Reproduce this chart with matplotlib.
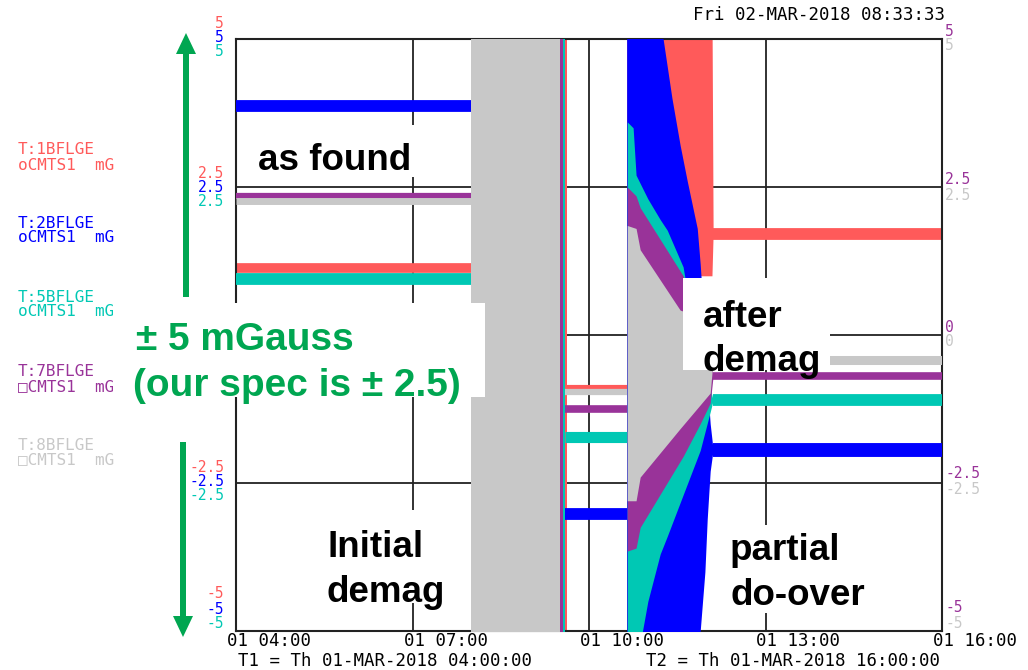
import matplotlib.pyplot as plt
from matplotlib.patches import Rectangle, FancyArrow

# trace colours, order is T:1, T:2, T:5, T:7, T:8
colors = ['#ff5a5a', '#0000ff', '#00c8b4', '#993399', '#c8c8c8']
green = '#00a651'

trace_names = ['T:1BFLGE', 'T:2BFLGE', 'T:5BFLGE', 'T:7BFLGE', 'T:8BFLGE']
trace_units = ['oCMTS1  mG', 'oCMTS1  mG', 'oCMTS1  mG', '\u25a1CMTS1  mG', '\u25a1CMTS1  mG']

# time axis in hours of 01-MAR-2018
x_ticks = [4, 7, 10, 13, 16]
x_labels = ['01 04:00', '01 07:00', '01 10:00', '01 13:00', '01 16:00']
y_ticks = [5, 2.5, 0, -2.5, -5]
y_labels = ['5', '2.5', '0', '-2.5', '-5']

# flat stretches (mG)
t_before = [4.0, 7.99]
before_vals = [1.13, 3.87, 0.95, 2.35, 2.26]
t_between = [9.6, 10.65]
between_vals = [-0.88, -3.02, -1.72, -1.25, -0.97]
t_after = [12.11, 16.0]
after_vals = [1.71, -1.94, -1.10, -0.69, -0.42]

# initial demag: every trace swings off the scale
demag1_start = [7.99, 7.99, 7.99, 7.99, 7.99]
demag1_end = [9.62, 9.58, 9.60, 9.55, 9.51]
demag1_lo = [-5.6, -5.6, -5.6, -5.6, -5.6]
demag1_hi = [5.6, 5.6, 5.6, 5.6, 5.6]

# partial do-over, envelope of each trace
red_t2 = [10.64, 11.17, 11.72, 12.09, 12.11]
red_lo2 = [-5.6, -2.0, 1.0, 1.0, 1.71]
red_hi2 = [5.6, 5.6, 5.6, 5.6, 1.71]

blue_t2 = [10.64, 11.17, 11.41, 11.55, 11.67, 11.84, 11.89, 11.97, 12.01, 12.06, 12.11]
blue_lo2 = [-5.6, -5.6, -5.6, -5.6, -5.6, -5.6, -5.0, -4.0, -3.1, -2.3, -1.94]
blue_hi2 = [5.6, 5.6, 4.0, 3.2, 2.6, 1.8, 1.2, 0.0, -0.8, -1.5, -1.94]

teal_t2 = [10.65, 10.75, 10.80, 11.0, 11.21, 11.33, 11.6, 11.89, 12.06, 12.11]
teal_lo2 = [-5.6, -5.6, -5.6, -4.5, -3.7, -3.4, -2.7, -1.95, -1.3, -1.1]
teal_hi2 = [3.6, 3.5, 2.7, 2.3, 1.95, 1.77, 1.15, -0.6, -0.9, -1.1]

purple_t2 = [10.65, 10.80, 10.87, 11.6, 11.89, 12.06, 12.11]
purple_lo2 = [-3.65, -3.6, -3.25, -2.05, -1.5, -1.15, -0.69]
purple_hi2 = [2.5, 2.35, 2.15, 1.0, 0.2, -0.4, -0.69]

gray_t2 = [10.65, 10.80, 10.87, 11.55, 12.06, 12.11]
gray_lo2 = [-2.8, -2.8, -2.4, -1.58, -0.98, -0.42]
gray_hi2 = [1.85, 1.8, 1.44, 0.42, 0.25, -0.42]

demag2_t = [red_t2, blue_t2, teal_t2, purple_t2, gray_t2]
demag2_lo = [red_lo2, blue_lo2, teal_lo2, purple_lo2, gray_lo2]
demag2_hi = [red_hi2, blue_hi2, teal_hi2, purple_hi2, gray_hi2]

# line widths (pt) of the noisy flat stretches
lw_before = [7, 8.5, 8.5, 4.5, 5]
lw_between = [3, 8.5, 8, 5.5, 4.5]
lw_after = [8.5, 10, 8.5, 5.5, 6.5]

mono = dict(family='DejaVu Sans Mono', fontsize=12.5)
mono_legend = dict(family='DejaVu Sans Mono', fontsize=11.5)
mono_tick = dict(family='DejaVu Sans Mono', fontsize=10.5)
bold = dict(family='Liberation Sans', fontweight='bold', fontsize=26.5)

fig = plt.figure(figsize=(10.28, 6.70), dpi=100)
ax = fig.add_axes([236 / 1028, 39 / 670, 706 / 1028, 592 / 670])
ax.set_xlim(4, 16)
ax.set_ylim(-5, 5)
ax.set_xticks(x_ticks)
ax.set_yticks(y_ticks)
ax.tick_params(length=0, labelleft=False, labelbottom=False)
ax.grid(True, color='#222222', lw=1.3)
ax.set_axisbelow(True)
for s in ax.spines.values():
    s.set_color('#222222')
    s.set_linewidth(1.5)

for i, c in enumerate(colors):
    z = 2 + i
    ax.plot(t_before, [before_vals[i]] * 2, color=c, lw=lw_before[i], solid_capstyle='butt', zorder=z)
    ax.plot(t_between, [between_vals[i]] * 2, color=c, lw=lw_between[i], solid_capstyle='butt', zorder=z)
    ax.plot(t_after, [after_vals[i]] * 2, color=c, lw=lw_after[i], solid_capstyle='butt', zorder=z)
    ax.fill_between([demag1_start[i], demag1_end[i]], demag1_lo[i], demag1_hi[i],
                    color=c, lw=0, zorder=z)
    ax.fill_between(demag2_t[i], demag2_lo[i], demag2_hi[i], color=c, lw=0, zorder=z)

# stacked coloured tick labels (the left 0 ones sit under the note box)
left_offsets = [(-15, -1, 13), (-14, 0, 14), None, (-15, -1, 13), (-37, -22, -8)]
right_offsets = [(-8, 7), (-7, 8), (-7, 7), (-9, 7), (-23, -8)]
for v, lab, offs in zip(y_ticks, y_labels, left_offsets):
    if offs is None:
        continue
    for c, dy in zip(colors[:3], offs):
        ax.annotate(lab, xy=(0, v), xycoords=ax.get_yaxis_transform(), xytext=(-12, -dy),
                    textcoords='offset pixels', ha='right', va='center', color=c, **mono_tick)
for v, lab, offs in zip(y_ticks, y_labels, right_offsets):
    for c, dy in zip(colors[3:], offs):
        ax.annotate(lab, xy=(1, v), xycoords=ax.get_yaxis_transform(), xytext=(3, -dy),
                    textcoords='offset pixels', ha='left', va='center', color=c, **mono_tick)
for t, lab in zip(x_ticks, x_labels):
    ax.annotate(lab, xy=(t, 0), xycoords=ax.get_xaxis_transform(), xytext=(-9, -10),
                textcoords='offset pixels', ha='left', va='center', color='black', **mono)

# overlay in pixel coordinates for the notes
ov = fig.add_axes([0, 0, 1, 1])
ov.set_xlim(0, 1028)
ov.set_ylim(670, 0)
ov.axis('off')

ov.text(945, 15, 'Fri 02-MAR-2018 08:33:33', ha='right', va='center', **mono)
ov.text(238, 661, 'T1 = Th 01-MAR-2018 04:00:00', ha='left', va='center', **mono)
ov.text(940, 661, 'T2 = Th 01-MAR-2018 16:00:00', ha='right', va='center', **mono)

legend_y = [150, 223, 297, 372, 445]
for y, name, unit, c in zip(legend_y, trace_names, trace_units, colors):
    ov.text(18, y, name, color=c, va='center', zorder=2, **mono_legend)
    ov.text(18, y + 15, unit, color=c, va='center', zorder=2, **mono_legend)

# white boxes behind the notes
for (x0, y0, w, h) in [(245, 125, 175, 52), (318, 510, 140, 93), (683, 278, 147, 92),
                       (722, 525, 150, 88), (113, 303, 372, 94)]:
    ov.add_patch(Rectangle((x0, y0), w, h, facecolor='white', edgecolor='none', zorder=5))

notes = [(258, 170, 'as found'), (327, 557, 'Initial'), (327, 602, 'demag'),
         (703, 327, 'after'), (703, 371, 'demag'), (730, 560, 'partial'), (730, 605, 'do-over')]
for x, y, s in notes:
    ov.text(x, y, s, va='baseline', zorder=6, **bold)

green_font = dict(family='Liberation Sans', fontweight='bold', fontsize=28, color=green)
ov.text(136, 350, '\u00b1 5 mGauss', va='baseline', zorder=6, **green_font)
ov.text(133, 396, '(our spec is \u00b1 2.5)', va='baseline', zorder=6, **green_font)

ov.add_patch(FancyArrow(186, 297, 0, -264, width=6, head_width=20, head_length=21,
                        length_includes_head=True, color=green, lw=0, zorder=7))
ov.add_patch(FancyArrow(183, 442, 0, 195, width=6, head_width=20, head_length=21,
                        length_includes_head=True, color=green, lw=0, zorder=7))

fig.savefig('out.png', dpi=100)
